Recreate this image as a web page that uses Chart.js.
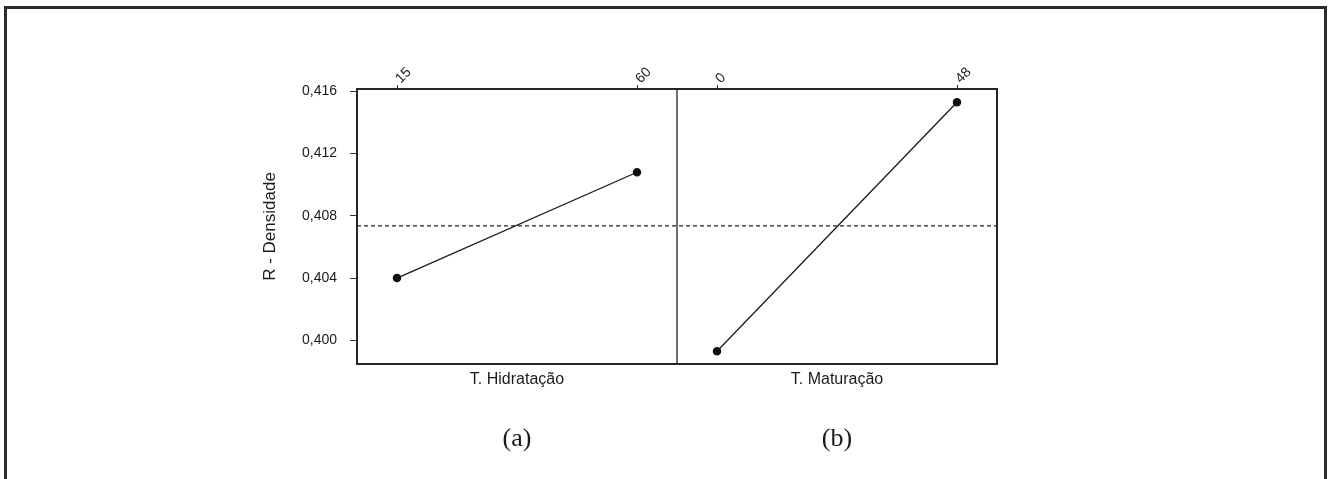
<!DOCTYPE html>
<html>
<head>
<meta charset="utf-8">
<script src="https://cdn.jsdelivr.net/npm/chart.js@4/dist/chart.umd.min.js"></script>
<style>
  html, body { margin: 0; padding: 0; background: #fff; overflow: hidden; }
  #frame {
    position: absolute; left: 4px; top: 6px; width: 1323px; height: 500px;
    box-sizing: border-box; border: 3px solid #2b2b2b; border-bottom: none;
  }
  #c { position: absolute; left: 0; top: 0; }
</style>
</head>
<body>
<div id="frame"></div>
<canvas id="c" width="1329" height="479"></canvas>
<script>
// Dados
const factors = ["T. Hidratação", "T. Maturação"];
const panelTags = ["(a)", "(b)"];
const levelsA = ["15", "60"];
const levelsB = ["0", "48"];
const valuesA = [0.4040, 0.4108];
const valuesB = [0.3993, 0.4153];
const yTicks = [0.400, 0.404, 0.408, 0.412, 0.416];

// posições dos níveis no eixo x (painel a: 0..1, painel b: 4/3..7/3)
const posA = [0, 1];
const posB = [4 / 3, 7 / 3];
const X_MIN = -1 / 6, X_MAX = 2.5;
const DIVIDER = (posA[1] + posB[0]) / 2;
const panelCenters = [(posA[0] + posA[1]) / 2, (posB[0] + posB[1]) / 2];

const allVals = valuesA.concat(valuesB);
const grandMean = allVals.reduce((s, v) => s + v, 0) / allVals.length;

const SANS = "'Liberation Sans', Arial, sans-serif";
const SERIF = "'Liberation Serif', 'Times New Roman', serif";
const INK = "#1a1a1a";

// moldura da área e linha divisória
const framePlugin = {
  id: "framePlugin",
  afterDatasetsDraw(chart) {
    const {ctx, chartArea: a, scales} = chart;
    ctx.save();
    const xd = scales.x.getPixelForValue(DIVIDER);
    ctx.strokeStyle = "#6e6e6e";
    ctx.lineWidth = 2;
    ctx.beginPath();
    ctx.moveTo(xd, a.top);
    ctx.lineTo(xd, a.bottom);
    ctx.stroke();
    ctx.strokeStyle = "#262626";
    ctx.lineWidth = 2;
    ctx.strokeRect(a.left, a.top, a.right - a.left, a.bottom - a.top);
    ctx.restore();
  }
};

function pts(xs, ys) {
  return xs.map((x, i) => ({x, y: ys[i]}));
}

const lineStyle = {
  borderColor: INK,
  borderWidth: 1.3,
  pointRadius: 3.6,
  pointBackgroundColor: "#111",
  pointBorderColor: "#111",
  showLine: true,
  tension: 0
};

new Chart(document.getElementById("c"), {
  type: "scatter",
  data: {
    datasets: [
      {label: "A", data: pts(posA, valuesA), ...lineStyle},
      {label: "B", data: pts(posB, valuesB), ...lineStyle},
      {
        label: "media",
        data: [{x: X_MIN, y: grandMean}, {x: X_MAX, y: grandMean}],
        borderColor: "#222",
        borderWidth: 1.2,
        borderDash: [4, 3],
        pointRadius: 0,
        showLine: true
      }
    ]
  },
  options: {
    responsive: false,
    animation: false,
    events: [],
    layout: {padding: {left: 260, right: 332, top: 0, bottom: 15}},
    plugins: {legend: {display: false}, tooltip: {enabled: false}},
    scales: {
      x: {
        type: "linear", position: "bottom", min: X_MIN, max: X_MAX,
        afterBuildTicks: (s) => { s.ticks = panelCenters.map(v => ({value: v})); },
        afterFit: (s) => { s.height = 30; },
        grid: {display: false, drawTicks: false},
        border: {display: false},
        ticks: {
          autoSkip: false, maxRotation: 0, padding: 6,
          color: INK, font: {family: SANS, size: 16},
          callback: (v, i) => factors[i]
        }
      },
      xTag: {
        type: "linear", position: "bottom", weight: 1, min: X_MIN, max: X_MAX,
        afterBuildTicks: (s) => { s.ticks = panelCenters.map(v => ({value: v})); },
        afterFit: (s) => { s.height = 70; },
        grid: {display: false, drawTicks: false},
        border: {display: false},
        ticks: {
          autoSkip: false, maxRotation: 0, padding: 30,
          color: INK, font: {family: SERIF, size: 26},
          callback: (v, i) => panelTags[i]
        }
      },
      xTop: {
        type: "linear", position: "top", min: X_MIN, max: X_MAX,
        afterBuildTicks: (s) => { s.ticks = posA.concat(posB).map(v => ({value: v})); },
        afterFit: (s) => { s.height = 89; },
        grid: {drawOnChartArea: false, tickLength: 4, color: "#333", lineWidth: 1},
        border: {display: false},
        ticks: {
          autoSkip: false, minRotation: 45, maxRotation: 45, padding: -2,
          labelOffset: 13,
          color: INK, font: {family: SANS, size: 14},
          callback: (v, i) => levelsA.concat(levelsB)[i]
        }
      },
      y: {
        type: "linear", position: "left", min: 0.39848, max: 0.41615,
        afterBuildTicks: (s) => { s.ticks = yTicks.map(v => ({value: v})); },
        afterFit: (s) => { s.width = 97; },
        grid: {drawOnChartArea: false, tickLength: 7, color: "#333", lineWidth: 1},
        border: {display: false},
        title: {
          display: true, text: "R - Densidade", color: INK,
          font: {family: SANS, size: 17}, padding: {top: 0, bottom: 0}
        },
        ticks: {
          autoSkip: false, padding: 13, color: INK,
          font: {family: SANS, size: 14},
          callback: (v) => v.toFixed(3).replace(".", ",")
        }
      }
    }
  },
  plugins: [framePlugin]
});
</script>
</body>
</html>
